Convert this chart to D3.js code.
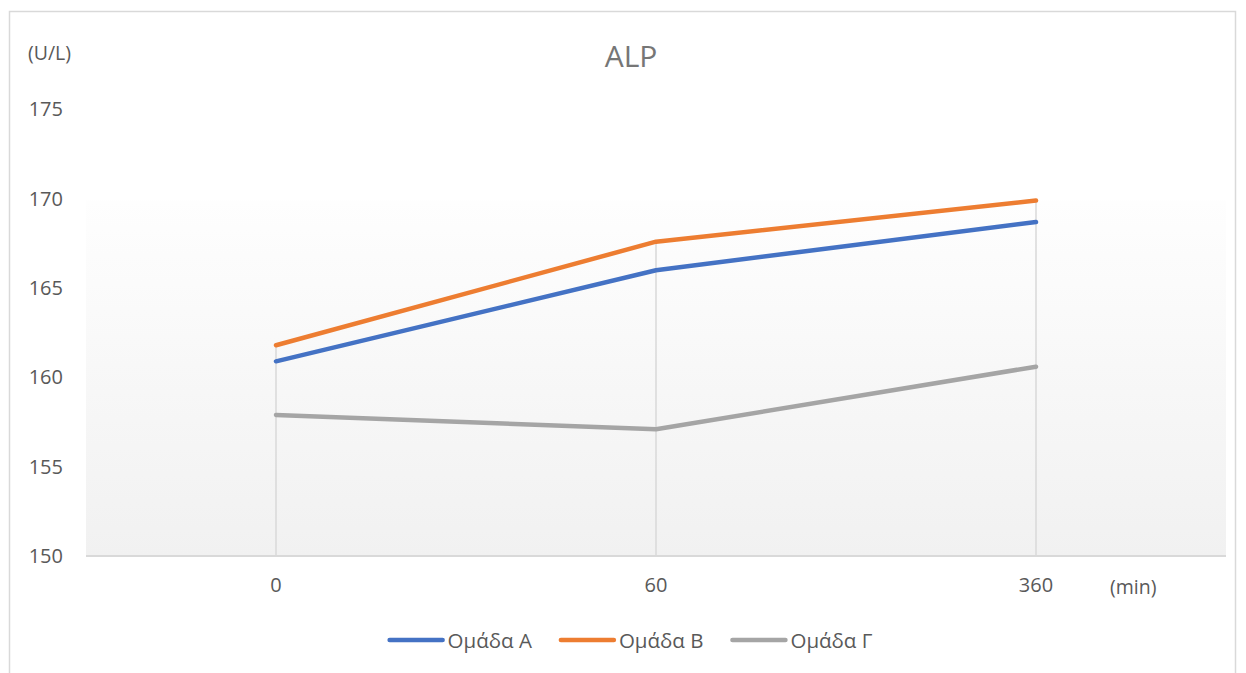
<!DOCTYPE html>
<html>
<head>
<meta charset="utf-8">
<script src="https://cdn.jsdelivr.net/npm/d3@7"></script>
<style>
  html, body { margin: 0; padding: 0; background: #fff; }
  svg { display: block; font-family: "Open Sans", "Noto Sans", sans-serif; }
</style>
</head>
<body>
<svg id="chart" width="1246" height="673"></svg>
<script>
// Sampling times (min)
const categories = ["0", "60", "360"];
// ALP (U/L) per group
const groupA = [160.9, 166.0, 168.7];
const groupB = [161.8, 167.6, 169.9];
const groupC = [157.9, 157.1, 160.6];
const seriesNames = ["Ομάδα Α", "Ομάδα Β", "Ομάδα Γ"];
const seriesColors = ["#4472c4", "#ed7d31", "#a5a5a5"];
const yTicks = [150, 155, 160, 165, 170, 175];

const series = [groupA, groupB, groupC].map((values, i) => ({
  name: seriesNames[i], color: seriesColors[i], values
}));

const svg = d3.select("#chart");
const plot = { left: 86, right: 1226, top: 109.5, bottom: 556 };

const x = d3.scaleBand().domain(categories).range([plot.left, plot.right]);
const y = d3.scaleLinear().domain([150, 175]).range([plot.bottom, plot.top]);
const cx = c => x(c) + x.bandwidth() / 2;

// Outer chart frame
svg.append("rect")
  .attr("x", 9.5).attr("y", 11.5).attr("width", 1226).attr("height", 700)
  .attr("fill", "#fff").attr("stroke", "#d9d9d9").attr("stroke-width", 1.5);

// Soft gradient behind the lines
const defs = svg.append("defs");
const grad = defs.append("linearGradient").attr("id", "bgGrad")
  .attr("x1", 0).attr("y1", 0).attr("x2", 0).attr("y2", 1);
grad.append("stop").attr("offset", "0%").attr("stop-color", "#fefefe");
grad.append("stop").attr("offset", "100%").attr("stop-color", "#f1f1f1");

const allValues = series.flatMap(s => s.values);
const topY = y(d3.max(allValues));
svg.append("rect")
  .attr("x", plot.left).attr("y", topY)
  .attr("width", plot.right - plot.left).attr("height", plot.bottom - topY)
  .attr("fill", "url(#bgGrad)");

// Drop lines from the highest point of each category to the axis
svg.append("g").selectAll("line")
  .data(categories)
  .join("line")
  .attr("x1", c => cx(c)).attr("x2", c => cx(c))
  .attr("y1", (c, i) => y(d3.max(series, s => s.values[i])))
  .attr("y2", plot.bottom)
  .attr("stroke", "#d9d9d9").attr("stroke-width", 1.5);

// Horizontal category axis line
svg.append("line")
  .attr("x1", plot.left).attr("x2", plot.right)
  .attr("y1", plot.bottom).attr("y2", plot.bottom)
  .attr("stroke", "#d9d9d9").attr("stroke-width", 2);

// Y axis labels
const yAxis = d3.axisLeft(y).tickValues(yTicks).tickSize(0).tickPadding(0);
const gy = svg.append("g").attr("transform", "translate(63,0)").call(yAxis);
gy.select(".domain").remove();
gy.selectAll("text")
  .attr("fill", "#595959").style("font-size", "20px")
  .style("font-family", "'Open Sans', sans-serif");

// X axis labels
const xAxis = d3.axisBottom(x).tickSize(0).tickPadding(0);
const gx = svg.append("g").attr("transform", `translate(0,${plot.bottom + 22})`).call(xAxis);
gx.select(".domain").remove();
gx.selectAll("text")
  .attr("fill", "#595959").style("font-size", "20px")
  .style("font-family", "'Open Sans', sans-serif");

// Axis unit labels
svg.append("text").attr("x", 28).attr("y", 60)
  .attr("fill", "#595959").style("font-size", "19.5px").text("(U/L)");
svg.append("text").attr("x", 1110).attr("y", 594)
  .attr("fill", "#595959").style("font-size", "19.5px").text("(min)");

// Title
svg.append("text").attr("x", 631).attr("y", 67).attr("text-anchor", "middle")
  .attr("fill", "#767676").style("font-size", "30px").text("ALP");

// Series lines
const line = d3.line()
  .x((d, i) => cx(categories[i]))
  .y(d => y(d));

svg.append("g").selectAll("path")
  .data(series)
  .join("path")
  .attr("d", s => line(s.values))
  .attr("fill", "none")
  .attr("stroke", s => s.color)
  .attr("stroke-width", 4.5)
  .attr("stroke-linecap", "round")
  .attr("stroke-linejoin", "round");

// Legend
const legend = svg.append("g");
const legendY = 640;
const swatchW = 53, gap = 5, itemGap = 29;
const items = legend.selectAll("g").data(series).join("g");
items.append("line")
  .attr("x1", 0).attr("x2", swatchW).attr("y1", 0).attr("y2", 0)
  .attr("stroke", s => s.color).attr("stroke-width", 4.5)
  .attr("stroke-linecap", "round");
items.append("text")
  .attr("x", swatchW + gap).attr("y", 7.5)
  .attr("fill", "#595959").style("font-size", "20.5px")
  .text(s => s.name);
let widths = [];
items.each(function() {
  widths.push(swatchW + gap + this.querySelector("text").getComputedTextLength());
});
const total = d3.sum(widths) + itemGap * (widths.length - 1);
let cursor = 631 - total / 2;
items.attr("transform", (s, i) => {
  const t = `translate(${cursor},${legendY})`;
  cursor += widths[i] + itemGap;
  return t;
});
</script>
</body>
</html>
